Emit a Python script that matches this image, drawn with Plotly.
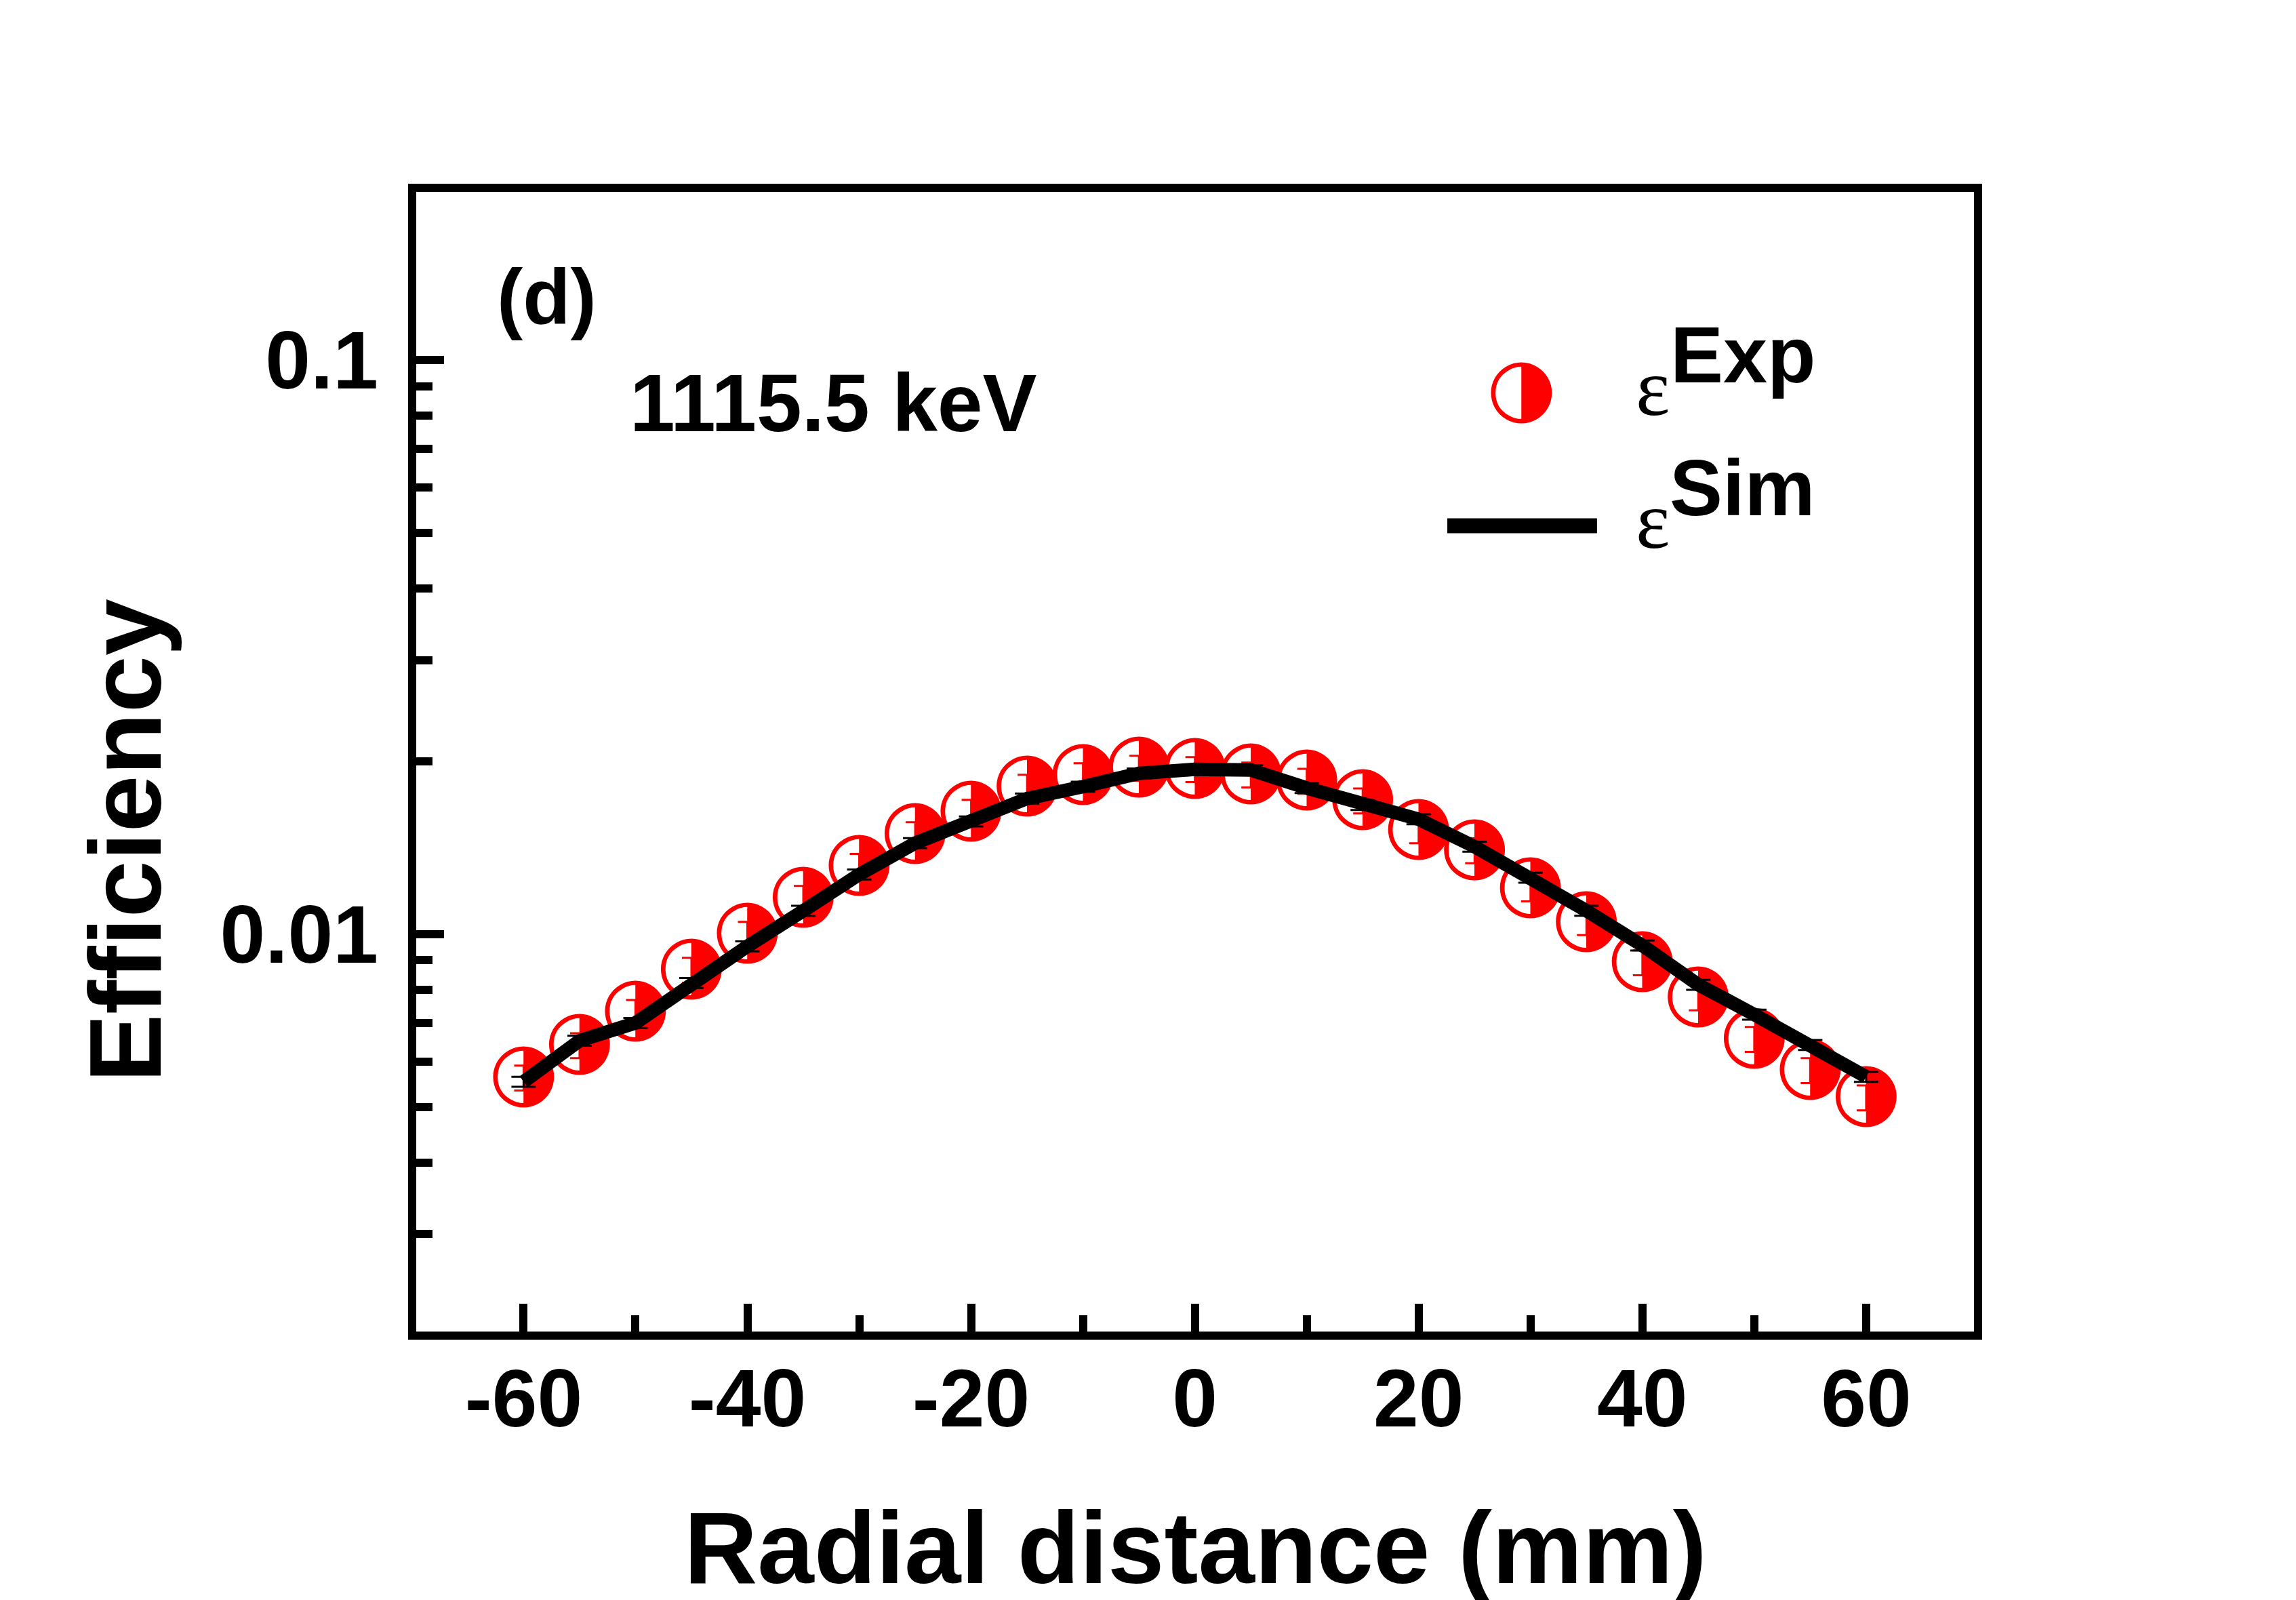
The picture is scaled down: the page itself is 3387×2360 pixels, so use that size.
import plotly.graph_objects as go

# Radial scan, 1115.5 keV line
radial_mm = [-60, -55, -50, -45, -40, -35, -30, -25, -20, -15, -10, -5, 0,
             5, 10, 15, 20, 25, 30, 35, 40, 45, 50, 55, 60]
eff_exp = [0.00562, 0.00640, 0.00731, 0.00866, 0.01000, 0.01155, 0.01313,
           0.01491, 0.01631, 0.01804, 0.01890, 0.01947, 0.01936, 0.01895,
           0.01848, 0.01708, 0.01515, 0.01398, 0.01200, 0.01048, 0.00892,
           0.00775, 0.00656, 0.00579, 0.00519]
eff_sim = [0.00553, 0.00652, 0.00700, 0.00822, 0.00952, 0.01098, 0.01270,
           0.01440, 0.01571, 0.01722, 0.01806, 0.01905, 0.01936, 0.01931,
           0.01796, 0.01678, 0.01585, 0.01420, 0.01254, 0.01098, 0.00955,
           0.00816, 0.00724, 0.00641, 0.00564]
exp_err_pct = 5.0
sim_err_pct = 2.0

x_ticks = [-60, -40, -20, 0, 20, 40, 60]
x_ticktext = ["-60", "-40", "-20", "0", "20", "40", "60"]
x_minor = [-50, -30, -10, 10, 30, 50]
y_ticks = [0.01, 0.1]
y_ticktext = ["0.01", "0.1"]
y_minor = [0.003, 0.004, 0.005, 0.006, 0.007, 0.008, 0.009,
           0.02, 0.03, 0.04, 0.05, 0.06, 0.07, 0.08, 0.09]

RED = "#ff0000"
SANS = "Liberation Sans, Arial, sans-serif"
HALF = "\u25d1"  # circle with right half black

fig = go.Figure()

fig.add_trace(go.Scatter(
    x=radial_mm, y=eff_exp, mode="text", text=[HALF] * len(radial_mm),
    textposition="middle center",
    textfont=dict(family="DejaVu Sans", size=118, color=RED),
    error_y=dict(type="percent", value=exp_err_pct, color=RED,
                 thickness=3, width=14),
    name="Exp"))

fig.add_trace(go.Scatter(
    x=radial_mm, y=eff_sim, mode="lines",
    line=dict(color="black", width=20),
    error_y=dict(type="percent", value=sim_err_pct, color="black",
                 thickness=3, width=18),
    name="Sim"))

axis_common = dict(
    showgrid=False, zeroline=False, showline=True, linecolor="black",
    linewidth=12, mirror=True, ticks="inside", ticklen=41, tickwidth=12,
    tickcolor="black",
    tickfont=dict(family=SANS, size=120, color="black", weight="bold"))

fig.update_xaxes(range=[-69.6, 69.64], tickmode="array", tickvals=x_ticks,
                 ticktext=x_ticktext, ticklabelstandoff=-16,
                 minor=dict(tickmode="array", tickvals=x_minor, ticks="inside",
                            ticklen=24, tickwidth=12, tickcolor="black"),
                 **axis_common)
fig.update_yaxes(type="log", range=[-2.6924, -0.7072], tickmode="array",
                 tickvals=y_ticks, ticktext=y_ticktext, ticklabelstandoff=20,
                 minor=dict(tickmode="array", tickvals=y_minor, ticks="inside",
                            ticklen=24, tickwidth=12, tickcolor="black"),
                 **axis_common)

def note(text, x, y, size, family=SANS, weight="bold", xanchor="left",
         angle=0, color="black"):
    fig.add_annotation(text=text, x=x, y=y, xref="paper", yref="paper",
                       xanchor=xanchor, yanchor="middle", showarrow=False,
                       textangle=angle,
                       font=dict(family=family, size=size, color=color,
                                 weight=weight))

note("(d)", 0.0509, 0.9078, 115)
note("1115.5 keV", 0.1362, 0.8151, 120)
note("Radial distance (mm)", 0.5000, -0.190, 150, xanchor="center")
note("Efficiency", -0.1867, 0.4309, 151, xanchor="center", angle=-90)

# legend
note(HALF, 0.7095, 0.8300, 118, family="DejaVu Sans", weight="normal",
     xanchor="center", color=RED)
fig.add_shape(type="line", xref="paper", yref="paper", x0=0.6619, x1=0.7580,
              y0=0.7070, y1=0.7070, line=dict(color="black", width=22))
note("\u03b5", 0.7820, 0.8285, 120, family="Liberation Serif, serif",
     weight="normal")
note("\u03b5", 0.7820, 0.7119, 120, family="Liberation Serif, serif",
     weight="normal")
note("Exp", 0.8040, 0.8567, 117)
note("Sim", 0.8036, 0.7403, 117)

fig.update_layout(
    width=3387, height=2360, showlegend=False,
    margin=dict(l=606, r=483, t=275, b=404, autoexpand=False),
    paper_bgcolor="white", plot_bgcolor="white")

fig.write_html("out.html")
